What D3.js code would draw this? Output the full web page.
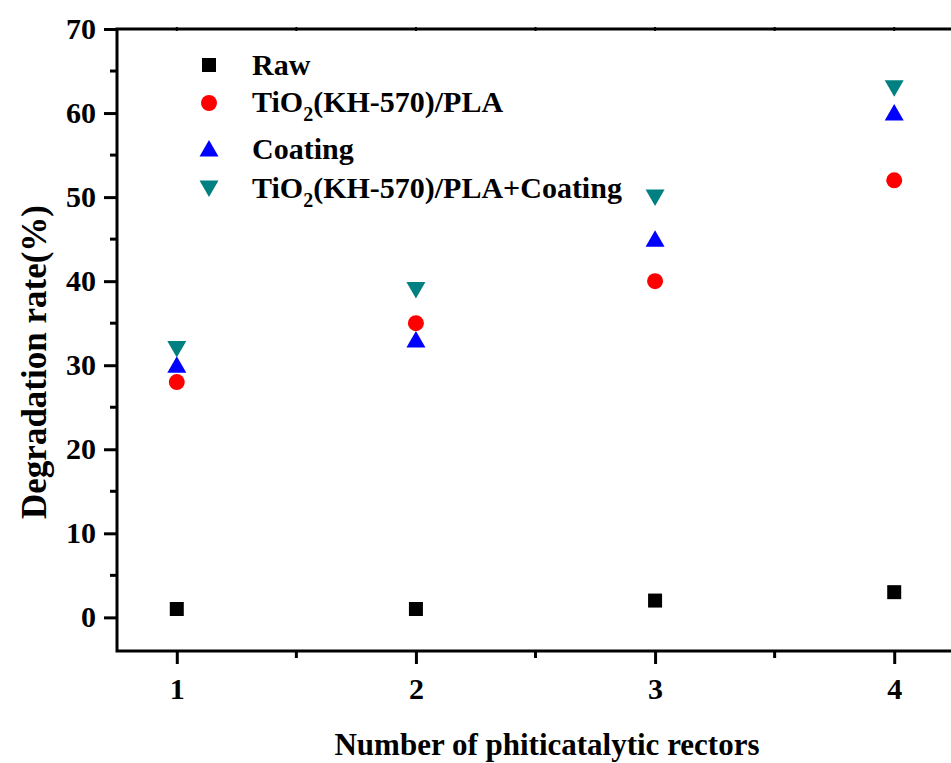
<!DOCTYPE html>
<html>
<head>
<meta charset="utf-8">
<script src="https://cdn.jsdelivr.net/npm/d3@7"></script>
<style>
  html, body { margin: 0; padding: 0; background: #fff; }
  svg { display: block; }
  text { font-family: "Liberation Serif", "Times New Roman", serif; font-weight: bold; fill: #000; }
</style>
</head>
<body>
<svg id="chart" width="951" height="763"></svg>
<script>
// Number of photocatalytic reactors
const reactors = [1, 2, 3, 4];

// Degradation rate (%) for each sample
const rawValues = [1, 1, 2, 3];
const tio2Values = [28, 35, 40, 52];
const coatingValues = [30, 33, 45, 60];
const tio2CoatingValues = [32, 39, 50, 63];

const seriesNames = ["Raw", "TiO2(KH-570)/PLA", "Coating", "TiO2(KH-570)/PLA+Coating"];
const xTickLabels = ["1", "2", "3", "4"];
const yTickLabels = ["0", "10", "20", "30", "40", "50", "60", "70"];

const series = [
  { name: seriesNames[0], values: rawValues, shape: "square", color: "#000000" },
  { name: seriesNames[1], values: tio2Values, shape: "circle", color: "#ff0000" },
  { name: seriesNames[2], values: coatingValues, shape: "up", color: "#0000ff" },
  { name: seriesNames[3], values: tio2CoatingValues, shape: "down", color: "#008080" }
];

const svg = d3.select("#chart");
const plotLeft = 117, plotTop = 29, plotBottom = 651, plotRight = 954;

const x = d3.scaleLinear().domain([0.75, 4.25]).range([plotLeft, plotRight]);
const y = d3.scaleLinear().domain([-4, 70]).range([plotBottom, plotTop]);

const fontSize = 30;

// Marker path generators
function markerPath(shape) {
  if (shape === "square") return "M-7,-7H7V7H-7Z";
  if (shape === "circle") return d3.symbol(d3.symbolCircle, 200)();
  if (shape === "up") return "M0,-9L9.5,7.5H-9.5Z";
  return "M0,9L9.5,-7.5H-9.5Z";
}

// Left axis with outward ticks
const yMajor = yTickLabels.map(Number);
const yAxis = d3.axisLeft(y).tickValues(yMajor).tickSize(13).tickPadding(8)
  .tickFormat((d, i) => yTickLabels[i]);
const gy = svg.append("g").attr("transform", `translate(${plotLeft},0)`).call(yAxis)
  .attr("font-family", null).attr("font-size", null);
gy.select(".domain").remove();
gy.selectAll(".tick line").attr("stroke", "#000").attr("stroke-width", 3);
gy.selectAll(".tick text").style("font-size", fontSize + "px").attr("fill", "#000");
// Minor ticks on left axis
svg.append("g").selectAll("line").data(d3.range(5, 70, 10)).join("line")
  .attr("x1", plotLeft - 7).attr("x2", plotLeft).attr("y1", d => y(d)).attr("y2", d => y(d))
  .attr("stroke", "#000").attr("stroke-width", 3);

// Bottom axis with outward ticks
const xAxis = d3.axisBottom(x).tickValues(reactors).tickSize(13).tickPadding(14)
  .tickFormat((d, i) => xTickLabels[i]);
const gx = svg.append("g").attr("transform", `translate(0,${plotBottom})`).call(xAxis)
  .attr("font-family", null).attr("font-size", null);
gx.select(".domain").remove();
gx.selectAll(".tick line").attr("stroke", "#000").attr("stroke-width", 3);
gx.selectAll(".tick text").style("font-size", fontSize + "px").attr("fill", "#000");
// Minor ticks on bottom axis
svg.append("g").selectAll("line").data([1.5, 2.5, 3.5]).join("line")
  .attr("x1", d => x(d)).attr("x2", d => x(d)).attr("y1", plotBottom).attr("y2", plotBottom + 7)
  .attr("stroke", "#000").attr("stroke-width", 3);
// Small ticks along the top frame
svg.append("g").selectAll("line").data([1, 1.5, 2, 2.5, 3, 3.5, 4]).join("line")
  .attr("x1", d => x(d)).attr("x2", d => x(d)).attr("y1", plotTop - 2).attr("y2", plotTop + 2)
  .attr("stroke", "#000").attr("stroke-width", 2);

// Frame
svg.append("path")
  .attr("d", `M${plotRight},${plotTop}H${plotLeft}V${plotBottom}H${plotRight}`)
  .attr("fill", "none").attr("stroke", "#000").attr("stroke-width", 3);

// Data markers
series.forEach(s => {
  svg.append("g").selectAll("path").data(s.values).join("path")
    .attr("d", markerPath(s.shape))
    .attr("transform", (d, i) => `translate(${x(reactors[i])},${y(d)})`)
    .attr("fill", s.color);
});

// Legend
const legendRows = [
  { s: series[0], cy: 65, base: 75 },
  { s: series[1], cy: 103, base: 112 },
  { s: series[2], cy: 149, base: 159 },
  { s: series[3], cy: 188, base: 198 }
];
legendRows.forEach(r => {
  svg.append("path").attr("d", markerPath(r.s.shape))
    .attr("transform", `translate(209,${r.cy})`).attr("fill", r.s.color);
  const t = svg.append("text").attr("x", 252).attr("y", r.base).style("font-size", fontSize + "px");
  if (r.s.name.startsWith("TiO2")) {
    t.append("tspan").text("TiO");
    t.append("tspan").attr("dy", 9).style("font-size", "20px").text("2");
    t.append("tspan").attr("dy", -9).text(r.s.name.slice(4));
  } else {
    t.text(r.s.name);
  }
});

// Axis titles
svg.append("text").attr("x", 547).attr("y", 755).attr("text-anchor", "middle")
  .style("font-size", "31px").text("Number of phiticatalytic rectors");
svg.append("text").attr("transform", "translate(46,362) rotate(-90)").attr("text-anchor", "middle")
  .style("font-size", "35px").text("Degradation rate(%)");
</script>
</body>
</html>
